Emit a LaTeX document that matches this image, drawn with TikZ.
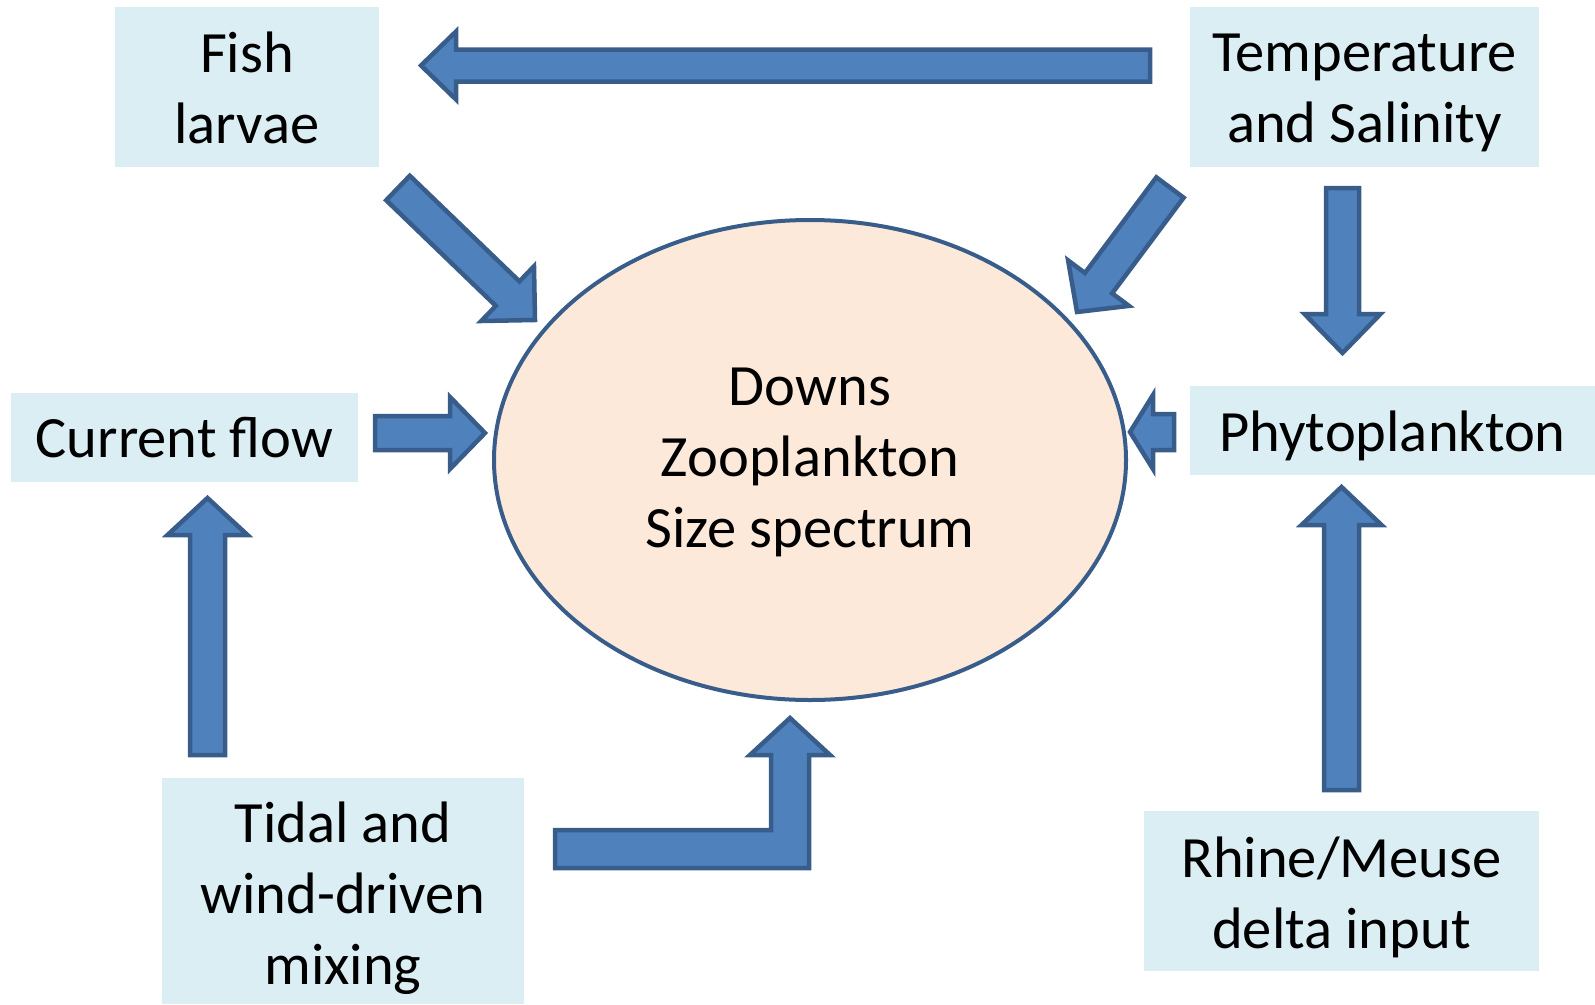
\documentclass[tikz,border=0pt]{standalone}
\usepackage{fontspec}
\setmainfont{Carlito}
\usetikzlibrary{calc,shapes.geometric}
\definecolor{boxfill}{HTML}{DBEEF4}
\definecolor{ellfill}{HTML}{FDE9D9}
\definecolor{arrfill}{HTML}{4F81BD}
\definecolor{arrline}{HTML}{385D8A}
% #1 tail coordinate, #2 tip coordinate, #3 half shaft width, #4 half head width, #5 head length
\newcommand\blockarrow[5]{%
  \coordinate (hb) at ($(#2)!#5!(#1)$);
  \draw[barrow] ($(#1)!#3!90:(#2)$) -- ($(hb)!#3!90:(#2)$) -- ($(hb)!#4!90:(#2)$) -- (#2)
    -- ($(hb)!#4!-90:(#2)$) -- ($(hb)!#3!-90:(#2)$) -- ($(#1)!#3!-90:(#2)$) -- cycle;
}
\begin{document}
\begin{tikzpicture}[x=1pt,y=-1pt,
  box/.style={fill=boxfill, draw=none, inner sep=0pt},
  boxtext/.style={inner sep=0pt, align=center, font=\fontsize{58.5}{71}\selectfont},
  barrow/.style={fill=arrfill, draw=arrline, line width=4.5pt, line join=miter},
  zoo/.style={ellipse, draw=arrline, fill=ellfill, line width=4pt, inner sep=0pt}]
\useasboundingbox (0,0) rectangle (1595,1004);

% boxes
\node[box, minimum width=264pt, minimum height=160pt] (fish) at (247,87) {};
\node[box, minimum width=349pt, minimum height=160pt] (temp) at (1364.5,87) {};
\node[box, minimum width=347pt, minimum height=89pt] (curr) at (184.5,437.5) {};
\node[box, minimum width=405pt, minimum height=89pt] (phyto) at (1392.5,430.5) {};
\node[box, minimum width=362pt, minimum height=226pt] (tidal) at (343,891) {};
\node[box, minimum width=395pt, minimum height=160pt] (rhine) at (1341.5,891) {};

\node[boxtext, yshift=-1pt] (fisht) at (fish) {Fish\\larvae};
\node[boxtext, yshift=-6pt] (tempt) at (temp) {Temperature\\and Salinity};
\node[boxtext] (currt) at (curr) {Current flow};
\node[boxtext, yshift=-5pt] (phytot) at (phyto) {Phytoplankton};
\node[boxtext, yshift=-7pt] (tidalt) at (tidal) {Tidal and\\wind-driven\\mixing};
\node[boxtext, yshift=-6pt] (rhinet) at (rhine) {Rhine/Meuse\\delta input};

% arrow end points
\coordinate (a1t) at (1150,65.5);   \coordinate (a1h) at (421,65.5);
\coordinate (a2t) at (398,188);     \coordinate (a2h) at (535,320);
\coordinate (a3t) at (1170,187.5);  \coordinate (a3h) at (1077,312);
\coordinate (a4t) at (375,433);     \coordinate (a4h) at (485,433);
\coordinate (a5t) at (1174,432);    \coordinate (a5h) at (1130,432);
\coordinate (a6t) at (1342.5,188);  \coordinate (a6h) at (1342.5,353);
\coordinate (a7t) at (207.5,755);   \coordinate (a7h) at (207.5,498);
\coordinate (a8t) at (1341.5,790);  \coordinate (a8h) at (1341.5,487);
\coordinate (bt) at (555,849);      \coordinate (bh) at (790,718);

\blockarrow{a1t}{a1h}{16pt}{34pt}{35pt}
\blockarrow{a2t}{a2h}{17pt}{38pt}{38pt}
\blockarrow{a3t}{a3h}{17pt}{38pt}{36pt}
\blockarrow{a4t}{a4h}{17pt}{36pt}{35pt}
\blockarrow{a5t}{a5h}{18pt}{37pt}{23pt}
\blockarrow{a6t}{a6h}{16.5pt}{38pt}{39pt}
\blockarrow{a7t}{a7h}{17.5pt}{40pt}{37pt}
\blockarrow{a8t}{a8h}{17.5pt}{40pt}{38pt}

% bent arrow from mixing up to the ellipse
\draw[barrow] ($(bt)+(0,-19)$) -- ($(bh)+(-19,112)$) -- ($(bh)+(-19,37)$) -- ($(bh)+(-40,37)$)
  -- (bh) -- ($(bh)+(40,37)$) -- ($(bh)+(19,37)$) -- ($(bh)+(19,150)$) -- ($(bt)+(0,19)$) -- cycle;

% central ellipse
\node[zoo, minimum width=632pt, minimum height=480pt] (zoo) at (810,460) {};
\node[boxtext, yshift=-2pt] (zoot) at (zoo) {Downs\\Zooplankton\\Size spectrum};
\end{tikzpicture}
\end{document}
